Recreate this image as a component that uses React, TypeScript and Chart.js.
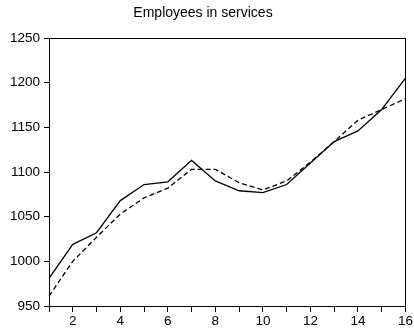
import React, { useEffect, useRef } from "react";
import { Chart, registerables } from "chart.js";

Chart.register(...registerables);

const periods = [1, 2, 3, 4, 5, 6, 7, 8, 9, 10, 11, 12, 13, 14, 15, 16];
const actual = [981, 1019, 1032, 1068, 1086, 1089, 1113, 1090, 1079, 1077, 1086, 1110, 1134, 1146, 1170, 1205];
const fitted = [961, 1000, 1027, 1053, 1071, 1082, 1103, 1103, 1088, 1080, 1090, 1111, 1134, 1158, 1170, 1182];
const yTicks = { min: 950, max: 1250, step: 50 };
const title = "Employees in services";

const FONT = "'Liberation Sans', Arial, sans-serif";

const frame = {
  id: "frame",
  afterDatasetsDraw(chart: any) {
    const { ctx, chartArea } = chart;
    ctx.save();
    ctx.strokeStyle = "#000";
    ctx.lineWidth = 1;
    ctx.strokeRect(
      Math.round(chartArea.left) + 0.5,
      Math.round(chartArea.top) + 0.5,
      Math.round(chartArea.right - chartArea.left),
      Math.round(chartArea.bottom - chartArea.top)
    );
    ctx.restore();
  },
};

export default function App() {
  const ref = useRef<HTMLCanvasElement>(null);
  useEffect(() => {
    if (!ref.current) return;
    const chart = new Chart(ref.current, {
      type: "line",
      data: {
        labels: periods.map(String),
        datasets: [
          {
            data: actual,
            borderColor: "#000",
            borderWidth: 1.3,
            pointRadius: 0,
            tension: 0,
            fill: false,
          },
          {
            data: fitted,
            borderColor: "#000",
            borderWidth: 1.3,
            borderDash: [5, 3],
            pointRadius: 0,
            tension: 0,
            fill: false,
          },
        ],
      },
      options: {
        responsive: false,
        animation: false,
        devicePixelRatio: 1,
        layout: { padding: { left: 0, right: 8, top: 0, bottom: 0 } },
        plugins: {
          legend: { display: false },
          tooltip: { enabled: false },
          title: {
            display: true,
            text: title,
            color: "#000",
            font: { family: FONT, size: 14, weight: "normal", lineHeight: 1.2 },
            padding: { top: 5, bottom: 16.2 },
          },
        },
        scales: {
          x: {
            type: "category",
            offset: false,
            grid: {
              display: true,
              drawOnChartArea: false,
              drawTicks: true,
              tickLength: 6,
              color: "#000",
              tickColor: "#000",
              tickWidth: 1,
            },
            border: { display: true, color: "#000", width: 1 },
            ticks: {
              autoSkip: false,
              maxRotation: 0,
              color: "#000",
              padding: 1,
              font: { family: FONT, size: 13.5 },
              callback: (_v: any, i: number) => (periods[i] % 2 === 0 ? String(periods[i]) : ""),
            },
            afterFit: (s: any) => {
              s.height = 26;
            },
          },
          y: {
            min: yTicks.min,
            max: yTicks.max,
            grid: {
              display: true,
              drawOnChartArea: false,
              drawTicks: true,
              tickLength: 5,
              color: "#000",
              tickColor: "#000",
              tickWidth: 1,
            },
            border: { display: true, color: "#000", width: 1 },
            ticks: {
              stepSize: yTicks.step,
              color: "#000",
              padding: 4,
              font: { family: FONT, size: 13.5 },
              callback: (v: any) => String(v),
            },
            afterFit: (s: any) => {
              s.width = 49;
            },
          },
        },
      },
      plugins: [frame],
    });
    return () => chart.destroy();
  }, []);
  return (
    <div style={{ position: "absolute", left: 0, top: 0, width: 414, height: 332, background: "#fff" }}>
      <canvas ref={ref} width={414} height={332} />
    </div>
  );
}
